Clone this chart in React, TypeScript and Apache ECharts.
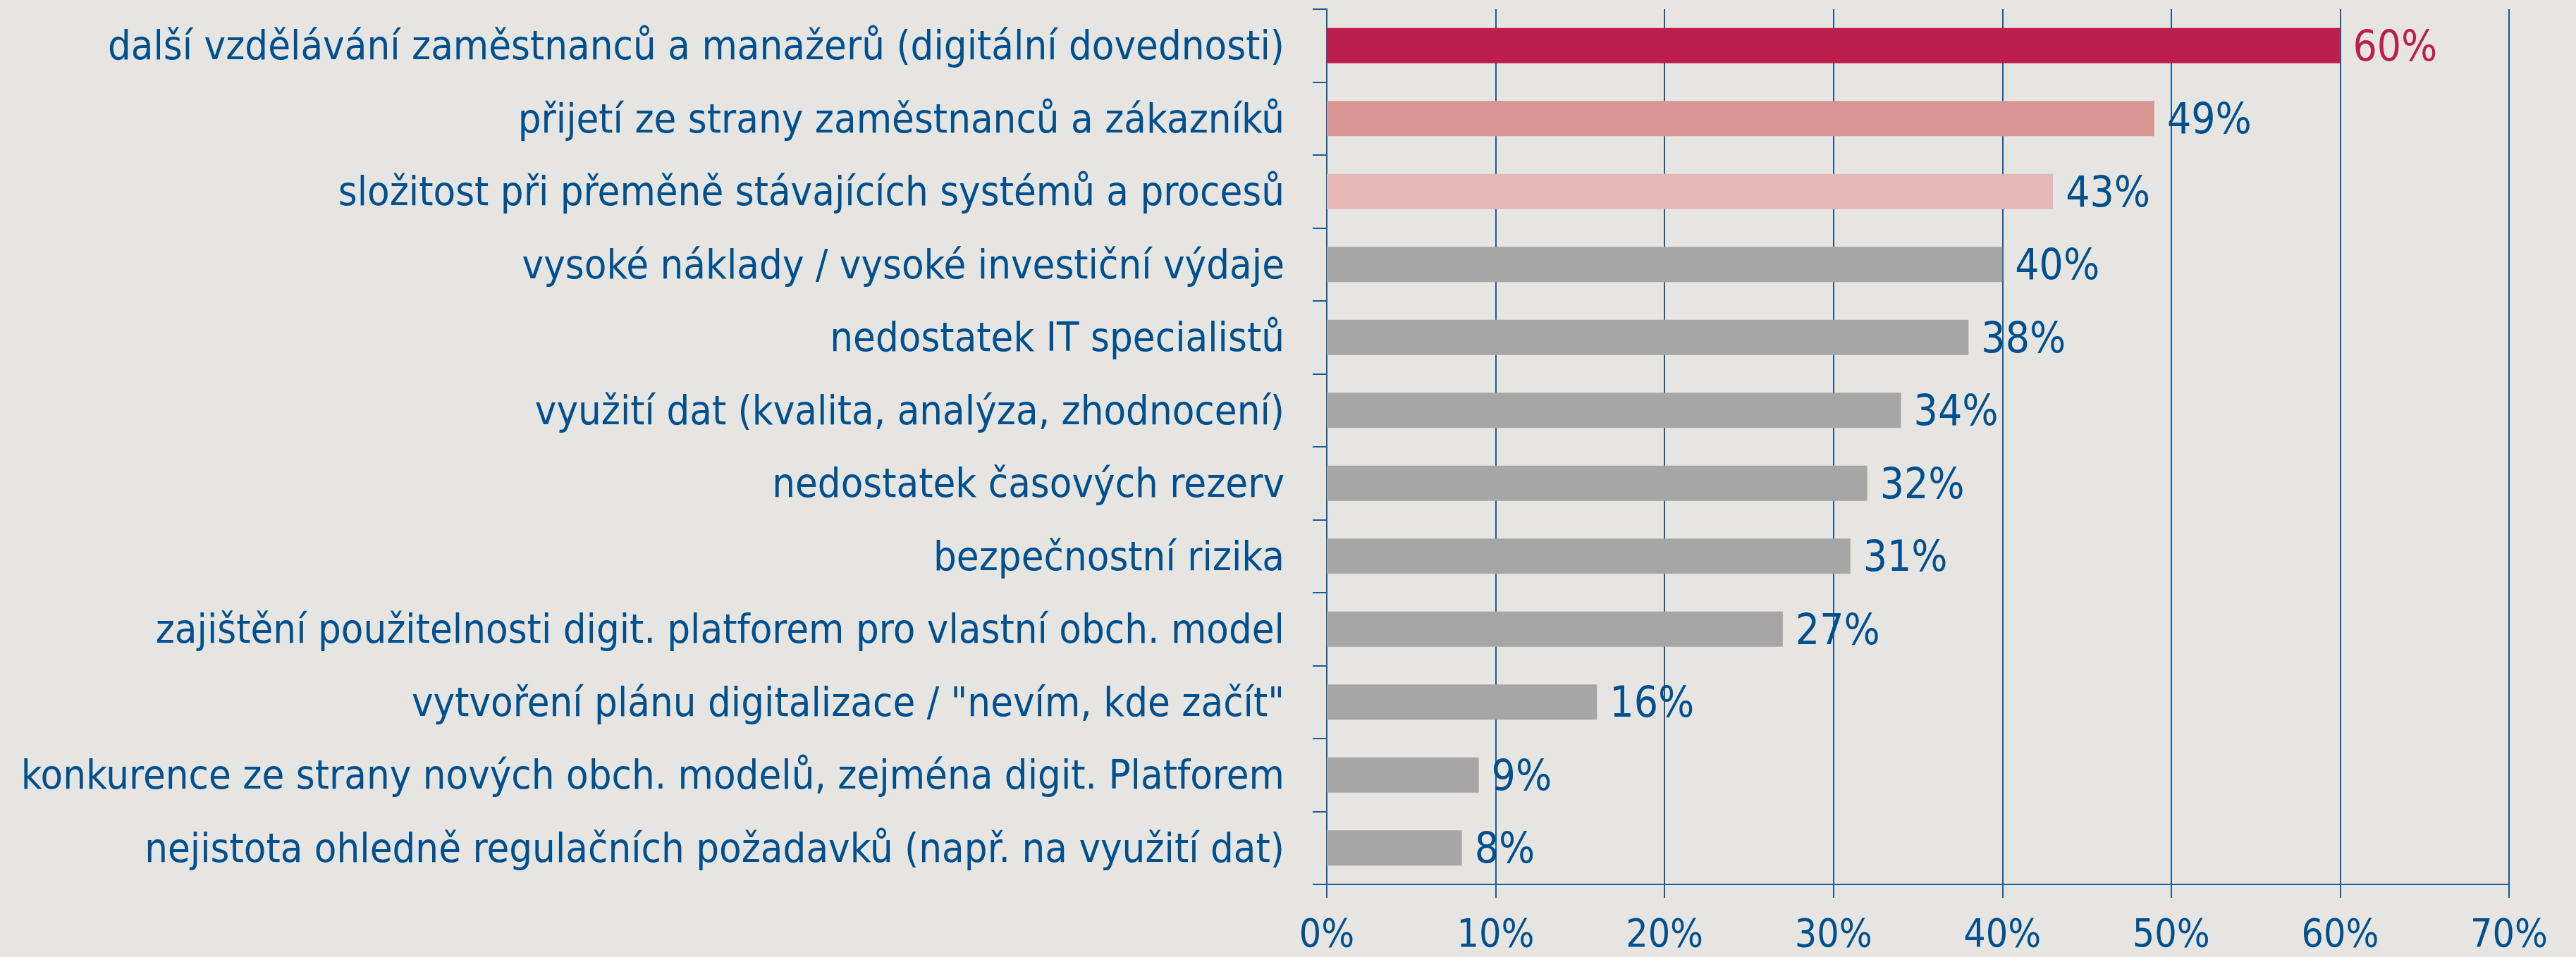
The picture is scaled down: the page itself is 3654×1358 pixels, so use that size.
import React, { useEffect, useRef } from "react";
import * as echarts from "echarts";

const categories = [
  "další vzdělávání zaměstnanců a manažerů (digitální dovednosti)",
  "přijetí ze strany zaměstnanců a zákazníků",
  "složitost při přeměně stávajících systémů a procesů",
  "vysoké náklady / vysoké investiční výdaje",
  "nedostatek IT specialistů",
  "využití dat (kvalita, analýza, zhodnocení)",
  "nedostatek časových rezerv",
  "bezpečnostní rizika",
  "zajištění použitelnosti digit. platforem pro vlastní obch. model",
  "vytvoření plánu digitalizace / \"nevím, kde začít\"",
  "konkurence ze strany nových obch. modelů, zejména digit. Platforem",
  "nejistota ohledně regulačních požadavků (např. na využití dat)",
];
const values = [60, 49, 43, 40, 38, 34, 32, 31, 27, 16, 9, 8];
const barColors = [
  "#BC1F4B", "#D99594", "#E6B7B7", "#A6A6A6", "#A6A6A6", "#A6A6A6",
  "#A6A6A6", "#A6A6A6", "#A6A6A6", "#A6A6A6", "#A6A6A6", "#A6A6A6",
];
const labelColors = [
  "#BC1F4B", "#00508F", "#00508F", "#00508F", "#00508F", "#00508F",
  "#00508F", "#00508F", "#00508F", "#00508F", "#00508F", "#00508F",
];
const xTicks = [0, 10, 20, 30, 40, 50, 60, 70];

const BLUE = "#00508F";
const LINE = "#1A5C99";
const FONT = "DejaVu Sans Condensed";

export default function App() {
  const ref = useRef<HTMLDivElement>(null);
  useEffect(() => {
    if (!ref.current) return;
    const chart = echarts.init(ref.current, null, { renderer: "svg" });
    chart.setOption({
      animation: false,
      backgroundColor: "#E6E5E1",
      grid: { left: 1882, right: 3654 - 3559, top: 13, bottom: 103, containLabel: false },
      xAxis: {
        type: "value",
        min: xTicks[0],
        max: xTicks[xTicks.length - 1],
        interval: 10,
        axisLine: { show: true, lineStyle: { color: LINE, width: 2 } },
        axisTick: { show: true, length: 19, lineStyle: { color: LINE, width: 2 } },
        splitLine: { show: true, lineStyle: { color: LINE, width: 2 } },
        axisLabel: {
          formatter: (v: number) => `${v}%`,
          color: BLUE,
          fontFamily: FONT,
          fontSize: 55,
          lineHeight: 54,
          margin: 42,
        },
      },
      yAxis: {
        type: "category",
        inverse: true,
        data: categories,
        axisLine: { show: true, lineStyle: { color: LINE, width: 2 } },
        axisTick: { show: true, length: 20, lineStyle: { color: LINE, width: 2 } },
        axisLabel: {
          color: BLUE,
          fontFamily: FONT,
          fontSize: 57.5,
          margin: 60,
        },
      },
      series: [
        {
          type: "bar",
          barWidth: 50,
          data: values.map((v, i) => ({
            value: v,
            itemStyle: { color: barColors[i] },
            label: { color: labelColors[i] },
          })),
          label: {
            show: true,
            position: "right",
            distance: 18,
            formatter: (p: any) => `${p.value}%`,
            fontFamily: FONT,
            fontSize: 60,
          },
        },
      ],
    });
    return () => chart.dispose();
  }, []);
  return (
    <div
      ref={ref}
      style={{ position: "fixed", left: 0, top: 0, width: 3654, height: 1358 }}
    />
  );
}
